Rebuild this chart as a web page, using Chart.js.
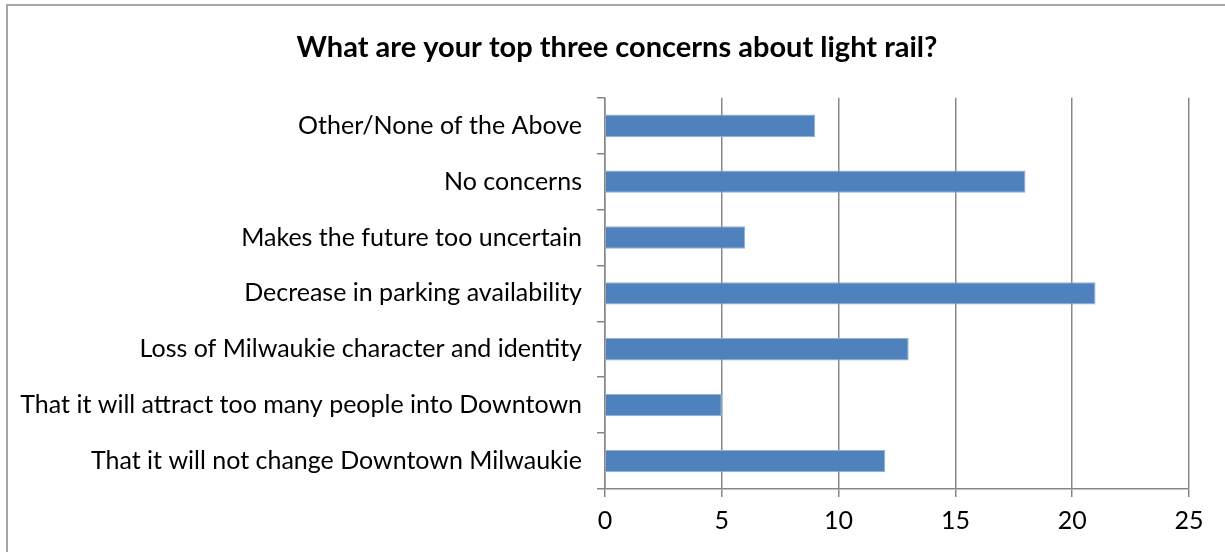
<!DOCTYPE html>
<html>
<head>
<meta charset="utf-8">
<script src="https://cdn.jsdelivr.net/npm/chart.js@4/dist/chart.umd.min.js"></script>
<style>
  html, body { margin: 0; padding: 0; background: #fff; }
  #wrap { width: 1225px; height: 552px; }
</style>
</head>
<body>
<div id="wrap"><canvas id="concerns"></canvas></div>
<script>
// Survey answers, top to bottom
const concernLabels = [
    'Other/None of the Above',
    'No concerns',
    'Makes the future too uncertain',
    'Decrease in parking availability',
    'Loss of Milwaukie character and identity',
    'That it will attract too many people into Downtown',
    'That it will not change Downtown Milwaukie'
];
const concernCounts = [9, 18, 6, 21, 13, 5, 12];
const countTicks = [0, 5, 10, 15, 20, 25];

const FONT = 'Lato, Calibri, "Open Sans", sans-serif';
const GRID = '#878787';

// outer frame of the chart object, and title centred on the framed box
const chartFrame = {
    id: 'chartFrame',
    afterLayout(chart) {
        if (chart.titleBlock) chart.titleBlock.left = 45;
    },
    beforeDraw(chart) {
        const c = chart.ctx;
        c.save();
        c.strokeStyle = '#a6a6a6';
        c.lineWidth = 2;
        c.strokeRect(7, 5, chart.width, chart.height);
        c.restore();
    }
};

new Chart(document.getElementById('concerns'), {
    type: 'bar',
    data: {
        labels: concernLabels,
        datasets: [{
            data: concernCounts,
            backgroundColor: '#4f81bd',
            borderColor: '#8fb0d8',
            borderWidth: 1,
            barPercentage: 0.4,
            categoryPercentage: 1
        }]
    },
    options: {
        indexAxis: 'y',
        responsive: true,
        maintainAspectRatio: false,
        animation: false,
        layout: { padding: { left: 10, right: 36, top: 0, bottom: 0 } },
        plugins: {
            legend: { display: false },
            tooltip: { enabled: false },
            title: {
                display: true,
                text: 'What are your top three concerns about light rail?',
                color: '#000',
                font: { family: FONT, size: 29, weight: 'bold', lineHeight: 1.2 },
                padding: { top: 30, bottom: 33 }
            }
        },
        scales: {
            x: {
                min: 0,
                max: 25,
                afterBuildTicks: s => { s.ticks = countTicks.map(v => ({ value: v })); },
                afterFit: s => { s.height = 63; },
                grid: { color: GRID, lineWidth: 1.5, tickLength: 8 },
                border: { color: GRID, width: 1.5 },
                ticks: { color: '#000', padding: 9, font: { family: FONT, size: 25 } }
            },
            y: {
                afterFit: s => { s.width = 605 - 10; },
                grid: { color: GRID, lineWidth: 1.5, tickLength: 8, drawOnChartArea: false, offset: true },
                border: { color: GRID, width: 1.5 },
                ticks: { color: '#000', padding: 15, font: { family: FONT, size: 25 } }
            }
        }
    },
    plugins: [chartFrame]
});
</script>
</body>
</html>
